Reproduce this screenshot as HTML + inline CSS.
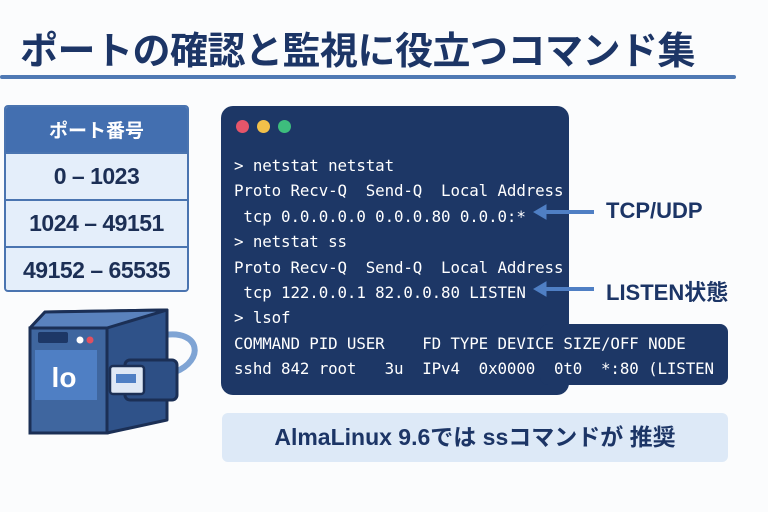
<!DOCTYPE html>
<html><head><meta charset="utf-8"><style>
body{margin:0;width:768px;height:512px;background:#fbfcfd;position:relative;overflow:hidden;font-family:"Liberation Sans","Noto Sans CJK JP",sans-serif}
.a{position:absolute}
.title{left:20px;top:20px;font-size:38px;font-weight:bold;color:#1c3566;white-space:nowrap;letter-spacing:-0.5px;font-family:"Noto Sans CJK JP",sans-serif}
.rule{left:0;top:75px;width:736px;height:4px;background:#4f79b4;border-radius:2px}
.tbl{left:4px;top:105px;width:181px;height:183px;border:2px solid #4a74b0;border-radius:4px;background:#e4eefa;overflow:hidden}
.hd{left:0;top:0;width:181px;height:45px;background:#436fb0;color:#fff;font-size:19px;font-weight:bold;text-align:center;line-height:45px;font-family:"Noto Sans CJK JP",sans-serif}
.row{left:0;width:181px;height:45px;text-align:center;line-height:45px;font-size:23px;font-weight:bold;color:#1c2f55;border-top:2px solid #4a74b0;letter-spacing:-0.5px}
.term{left:221px;top:106px;width:348px;height:289px;background:#1d3766;border-radius:12px}
.ext{left:540px;top:324px;width:188px;height:61px;background:#1d3766;border-radius:8px}
.mono{font-family:"DejaVu Sans Mono","Liberation Mono",monospace;font-size:15.8px;color:#fff;white-space:pre;letter-spacing:-0.1px}
.dot{width:13px;height:13px;border-radius:50%;top:120px}
.lbl{font-size:22px;font-weight:bold;color:#1c3566;white-space:nowrap}
.note{left:222px;top:413px;width:506px;height:49px;background:#dde9f7;border-radius:6px;text-align:center;line-height:49px;font-size:23px;font-weight:bold;color:#1c3566;font-family:"Liberation Sans","Noto Sans CJK JP",sans-serif}
</style></head><body>
<div class="a title">ポートの確認と監視に役立つコマンド集</div>
<div class="a rule"></div>

<div class="a tbl">
<div class="a hd">ポート番号</div>
<div class="a row" style="top:45px">0 – 1023</div>
<div class="a row" style="top:92px">1024 – 49151</div>
<div class="a row" style="top:139px">49152 – 65535</div>
</div>

<svg class="a" style="left:0;top:290px" width="220" height="160" viewBox="0 290 220 160">
<path d="M165 335 C200 330 205 360 175 372" fill="none" stroke="#7fa4d4" stroke-width="6"/>
<path d="M30 328 L45 312 L167 310 L167 420 L107 433 L30 433 Z" fill="#2f5289" stroke="#1b2f55" stroke-width="3" stroke-linejoin="round"/>
<path d="M30 328 L107 328 L167 310 L45 312 Z" fill="#5a82bd" stroke="#1b2f55" stroke-width="3" stroke-linejoin="round"/>
<rect x="30" y="328" width="77" height="105" fill="#3f669f" stroke="#1b2f55" stroke-width="3"/>
<rect x="38" y="332" width="30" height="11" rx="2" fill="#1d3766"/>
<circle cx="80" cy="340" r="3.5" fill="#fff"/><circle cx="90" cy="340" r="3.5" fill="#e05060"/>
<rect x="35" y="350" width="62" height="50" fill="#4f7fc4"/>
<text x="64" y="387" text-anchor="middle" font-family="Liberation Sans" font-weight="bold" font-size="28" fill="#fff">lo</text>
<rect x="125" y="360" width="52" height="40" rx="5" fill="#2d4f85" stroke="#1b2f55" stroke-width="3"/>
<rect x="110" y="366" width="34" height="28" rx="3" fill="#dfe8f5" stroke="#1b2f55" stroke-width="2.5"/>
<rect x="116" y="374" width="20" height="9" fill="#4f7fc4"/>
</svg>

<div class="a term"></div>
<div class="a ext"></div>
<div class="a dot" style="left:236px;background:#e5556a"></div>
<div class="a dot" style="left:257px;background:#f2c04a"></div>
<div class="a dot" style="left:278px;background:#3dbd7d"></div>
<div class="a mono" style="left:234px;top:153px;line-height:25.4px">&gt; netstat netstat
Proto Recv-Q  Send-Q  Local Address
 tcp 0.0.0.0.0 0.0.0.80 0.0.0:*
&gt; netstat ss
Proto Recv-Q  Send-Q  Local Address
 tcp 122.0.0.1 82.0.0.80 LISTEN
&gt; lsof
COMMAND PID USER    FD TYPE DEVICE SIZE/OFF NODE
sshd 842 root   3u  IPv4  0x0000  0t0  *:80 (LISTEN</div>

<svg class="a" style="left:530px;top:200px" width="70" height="100">
<g stroke="#4f7fc4" stroke-width="4" fill="#4f7fc4">
<line x1="12" y1="12" x2="64" y2="12"/><path d="M4 12 L16 5 L16 19 Z" stroke-width="1"/>
<line x1="12" y1="89" x2="64" y2="89"/><path d="M4 89 L16 82 L16 96 Z" stroke-width="1"/>
</g></svg>
<div class="a lbl" style="left:606px;top:198px">TCP/UDP</div>
<div class="a lbl" style="left:606px;top:275px;font-family:'Liberation Sans','Noto Sans CJK JP',sans-serif">LISTEN状態</div>

<div class="a note">AlmaLinux 9.6では ssコマンドが 推奨</div>
</body></html>
